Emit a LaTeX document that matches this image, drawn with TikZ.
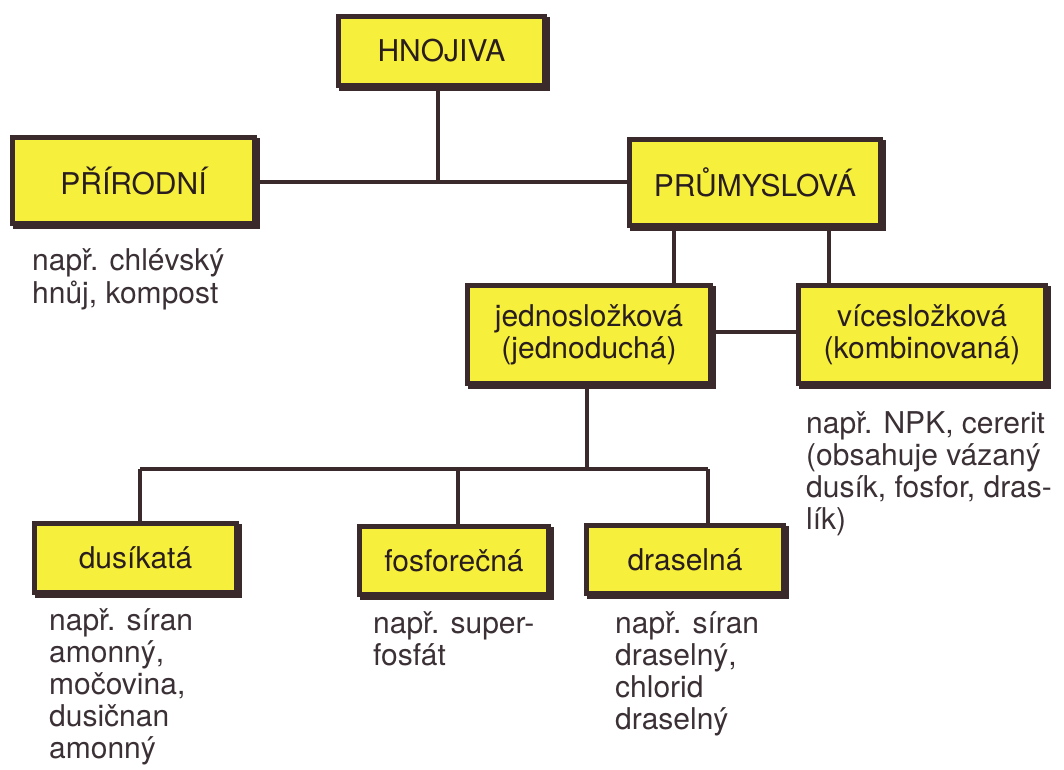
\documentclass[tikz,border=0pt]{standalone}
\usepackage{fontspec}
\setmainfont{TeX Gyre Heros}
\definecolor{boxyellow}{HTML}{F6EF3C}
\definecolor{boxdark}{HTML}{3A2A2C}
\definecolor{notetext}{HTML}{3A3035}
\begin{document}
\begin{tikzpicture}[x=1pt,y=-1pt,
  box/.style={draw=boxdark, line width=5pt, fill=boxyellow, text=boxdark!70!black,
    font=\fontsize{30}{32}\selectfont, align=center, inner sep=0pt,
    preaction={fill=boxdark, draw=boxdark, line width=5pt, transform canvas={xshift=3pt,yshift=-3pt}}},
  note/.style={anchor=north west, inner sep=0pt, align=left, text=notetext,
    font=\fontsize{30}{32}\selectfont},
  link/.style={draw=boxdark, line width=4pt}]
\useasboundingbox (0,0) rectangle (1064,769);
\fill[white] (0,0) rectangle (1064,769);

% boxes
\node[box, minimum width=206pt, minimum height=69pt] (hn) at (441.5,51) {HNOJIVA};
\node[box, minimum width=242pt, minimum height=86pt] (pr) at (133.5,180.5) {PŘÍRODNÍ};
\node[box, minimum width=251pt, minimum height=86pt] (pm) at (755,182.5) {PRŮMYSLOVÁ};
\node[box, minimum width=243pt, minimum height=98pt] (jd) at (589,334.5) {jednosložková\\(jednoduchá)};
\node[box, minimum width=247pt, minimum height=98pt] (vi) at (922,334.5) {vícesložková\\(kombinovaná)};
\node[box, minimum width=202pt, minimum height=69pt] (du) at (135.5,558) {dusíkatá};
\node[box, minimum width=189pt, minimum height=68pt] (fo) at (454,560.5) {fosforečná};
\node[box, minimum width=197pt, minimum height=68pt] (dr) at (685,559.5) {draselná};

% notes
\node[note] (npr) at (32,247.6) {\strut např. chlévský\\hnůj, kompost};
\node[note] (nvi) at (806,410.6) {\strut např. NPK, cererit\\(obsahuje vázaný\\dusík, fosfor, dras-\\lík)};
\node[note] (ndu) at (49,607.6) {\strut např. síran\\amonný,\\močovina,\\dusičnan\\amonný};
\node[note] (nfo) at (373,610.6) {\strut např. super-\\fosfát};
\node[note] (ndr) at (615,610.6) {\strut např. síran\\draselný,\\chlorid\\draselný};

% junctions
\coordinate (j1) at (438,182);
\coordinate (v1) at (674,300);
\coordinate (v2) at (829,300);
\coordinate (j2) at (587,469);
\coordinate (l2) at (140,469);
\coordinate (m2) at (458,469);
\coordinate (r2) at (708,469);

% connectors
\draw[link] (hn.south -| j1) -- (j1);
\draw[link] (pr.east |- j1) -- (pm.west |- j1);
\draw[link] (pm.south -| v1) -- (jd.north -| v1);
\draw[link] (pm.south -| v2) -- (vi.north -| v2);
\draw[link] (jd.east |- 0,332) -- (vi.west |- 0,332);
\draw[link] (jd.south -| j2) -- (j2);
\draw[link] (l2) -- (r2);
\draw[link] (l2) -- (du.north -| l2);
\draw[link] (m2) -- (fo.north -| m2);
\draw[link] (r2) -- (dr.north -| r2);
\end{tikzpicture}
\end{document}
